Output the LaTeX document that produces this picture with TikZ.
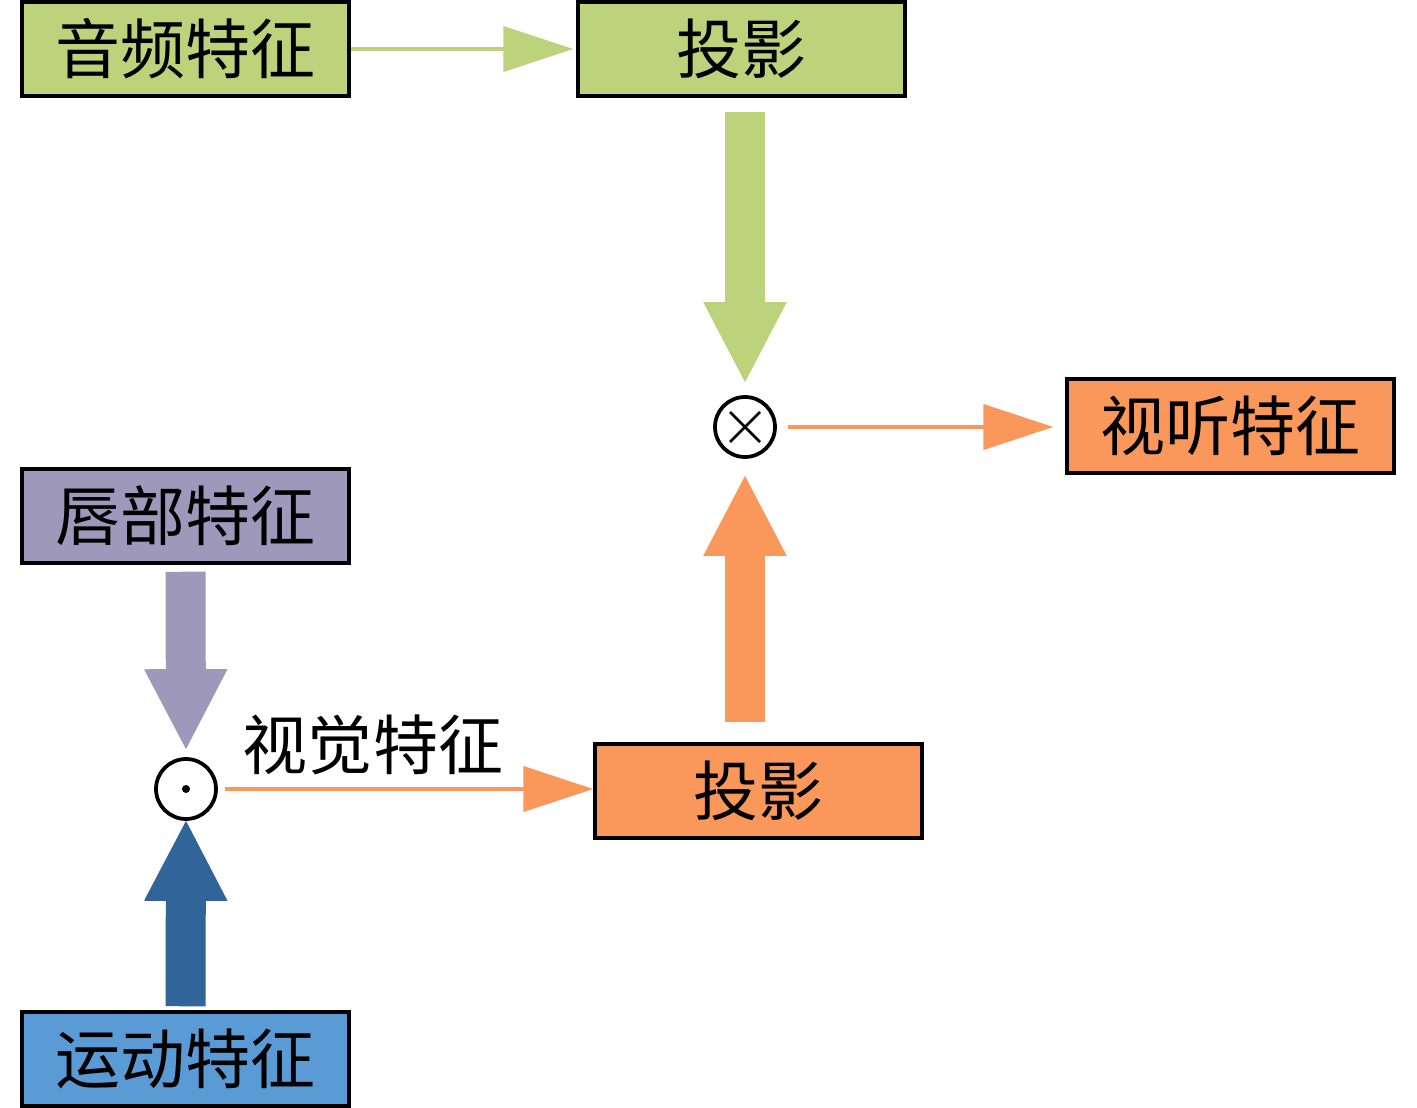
\documentclass[tikz,border=0pt]{standalone}
\usepackage{fontspec}
\newfontfamily\cjk{Noto Sans CJK SC}
\usetikzlibrary{arrows.meta}
\definecolor{fGreen}{HTML}{BDD37B}
\definecolor{fOrange}{HTML}{F9985A}
\definecolor{fPurple}{HTML}{9E98BB}
\definecolor{fNavy}{HTML}{31659A}
\definecolor{fBlue}{HTML}{5B9BD5}

\begin{document}
\begin{tikzpicture}[x=0.02cm, y=-0.02cm,
    feat/.style={draw, line width=0.07cm, minimum width=6.54cm, minimum height=1.88cm, inner sep=0pt, font=\cjk\fontsize{37}{40}\selectfont},
    op/.style={draw, circle, line width=0.075cm, minimum size=1.2cm, inner sep=0pt},
    thinarrow/.style={line width=0.085cm, -{Triangle[length=1.4cm, width=0.9cm]}},
    fatarrow/.style={line width=0.8cm, -{Triangle[length=1.64cm, width=1.54cm]}}]
  \useasboundingbox (0,0) rectangle (1417,1108);
  % feature boxes
  \node[feat, fill=fGreen] (audio) at (185.5,49) {音频特征};
  \node[feat, fill=fGreen] (projA) at (741.5,49) {投影};
  \node[feat, fill=fPurple] (lip) at (185.5,516) {唇部特征};
  \node[feat, fill=fBlue] (motion) at (185.5,1059) {运动特征};
  \node[feat, fill=fOrange] (projV) at (758.5,791) {投影};
  \node[feat, fill=fOrange] (avfeat) at (1230.5,426) {视听特征};
  % operators
  \node[op, path picture={\draw[line width=0.05cm] (path picture bounding box.center) ++(-15,-15) -- ++(30,30) ++(0,-30) -- ++(-30,30);}] (mul) at (745,427) {};
  \node[op] (dot) at (186,789) {};
  \fill (dot.center) circle [radius=0.08cm];
  % connectors
  \draw[thinarrow, fGreen, shorten >=0.06cm] (audio.east) -- (projA.west);
  \draw[fatarrow, fGreen, shorten <=0.28cm, shorten >=0.22cm] (mul |- projA.south) -- (mul.north);
  \draw[fatarrow, fPurple, shorten <=0.14cm, shorten >=0.12cm] (lip.south) -- (dot.north);
  \draw[fatarrow, fNavy, shorten <=0.08cm, shorten >=-0.04cm] (motion.north) -- (dot.south);
  \draw[thinarrow, fOrange, shorten <=0.14cm] (dot.east) -- (dot.east -| projV.west);
  \draw[fatarrow, fOrange, shorten <=0.4cm, shorten >=0.3cm] (mul |- projV.north) -- (mul.south);
  \draw[thinarrow, fOrange, shorten <=0.22cm, shorten >=0.24cm] (mul.east) -- (avfeat.west |- mul);
  \node[font=\cjk\fontsize{37}{40}\selectfont, inner sep=0pt] (vislbl) at (373,745) {视觉特征};
\end{tikzpicture}
\end{document}
